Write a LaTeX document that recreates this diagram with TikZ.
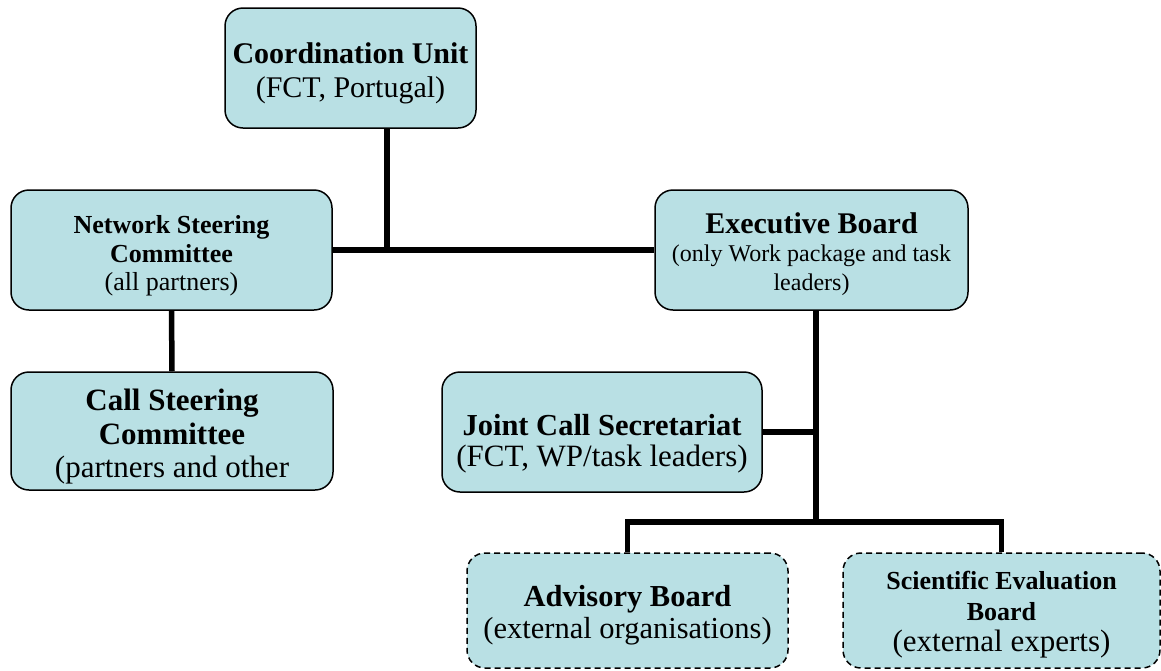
\documentclass[tikz,border=0pt]{standalone}
\usepackage{fontspec}
\setmainfont{Liberation Serif}
\definecolor{boxfill}{RGB}{185,224,228}
\newcommand\tstrut[1]{\rule{0pt}{#1}}
\begin{document}
\begin{tikzpicture}[x=1pt,y=-1pt,
  box/.style={draw=black, line width=1.5pt, fill=boxfill, rounded corners=18pt, align=center, inner sep=0pt},
  extbox/.style={box, dash pattern=on 6pt off 4pt},
  link/.style={line width=5.5pt, line join=miter}]
\useasboundingbox (0,0) rectangle (1161,670);

\node[box, minimum width=251pt, minimum height=120pt, font=\fontsize{30}{34}\selectfont] (cu) at (350.5,68)
  {\tstrut{31pt}\textbf{Coordination Unit}\\(FCT, Portugal)};
\node[box, minimum width=321pt, minimum height=120pt, font=\fontsize{26}{28.5}\selectfont] (nsc) at (171.5,250)
  {\tstrut{30pt}\textbf{Network Steering}\\\textbf{Committee}\\(all partners)};
\node[box, minimum width=313pt, minimum height=120pt, font=\fontsize{24}{28.5}\selectfont] (eb) at (811.5,250)
  {\tstrut{28.5pt}{\fontsize{30}{28.5}\selectfont\bfseries Executive Board}\\(only Work package and task\\leaders)};
\node[box, minimum width=322pt, minimum height=118pt] (csc) at (172,431) {};
\begin{scope}
  \clip[rounded corners=18pt] ([shift={(1pt,-1pt)}]csc.south west) rectangle ([shift={(-1pt,1pt)}]csc.north east);
  \node[align=center, inner sep=0pt, anchor=north, font=\fontsize{31}{33.5}\selectfont] (csctext) at (172,389)
    {\textbf{Call Steering}\\\textbf{Committee}\\(partners and other};
\end{scope}
\node[box, minimum width=320pt, minimum height=120pt, font=\fontsize{31}{31}\selectfont] (jcs) at (602,432)
  {\tstrut{45pt}{\fontsize{30.5}{31}\selectfont\bfseries Joint Call Secretariat}\\(FCT, WP/task leaders)};
\node[extbox, minimum width=321pt, minimum height=115pt, font=\fontsize{30.5}{32}\selectfont] (ab) at (627.5,610.5)
  {\tstrut{31pt}\textbf{Advisory Board}\\(external organisations)};
\node[extbox, minimum width=317pt, minimum height=115pt, font=\fontsize{31}{31}\selectfont] (seb) at (1001.5,610.5)
  {\tstrut{26pt}{\fontsize{26}{31}\selectfont\bfseries Scientific Evaluation}\\{\fontsize{26}{31}\selectfont\bfseries Board}\\(external experts)};

\coordinate (j1) at (387,250);
\coordinate (j2) at (816,522);

\draw[link] (cu.south -| j1) -- (j1);
\draw[link] (nsc.east) -- (eb.west);
\draw[link] (nsc.south) -- (csc.north);
\draw[link] (eb.south -| j2) -- (j2);
\draw[link] (jcs.east) -- (jcs.east -| j2);
\draw[link] (ab.north) -- (ab.north |- j2) -- (seb.north |- j2) -- (seb.north);
\end{tikzpicture}
\end{document}
